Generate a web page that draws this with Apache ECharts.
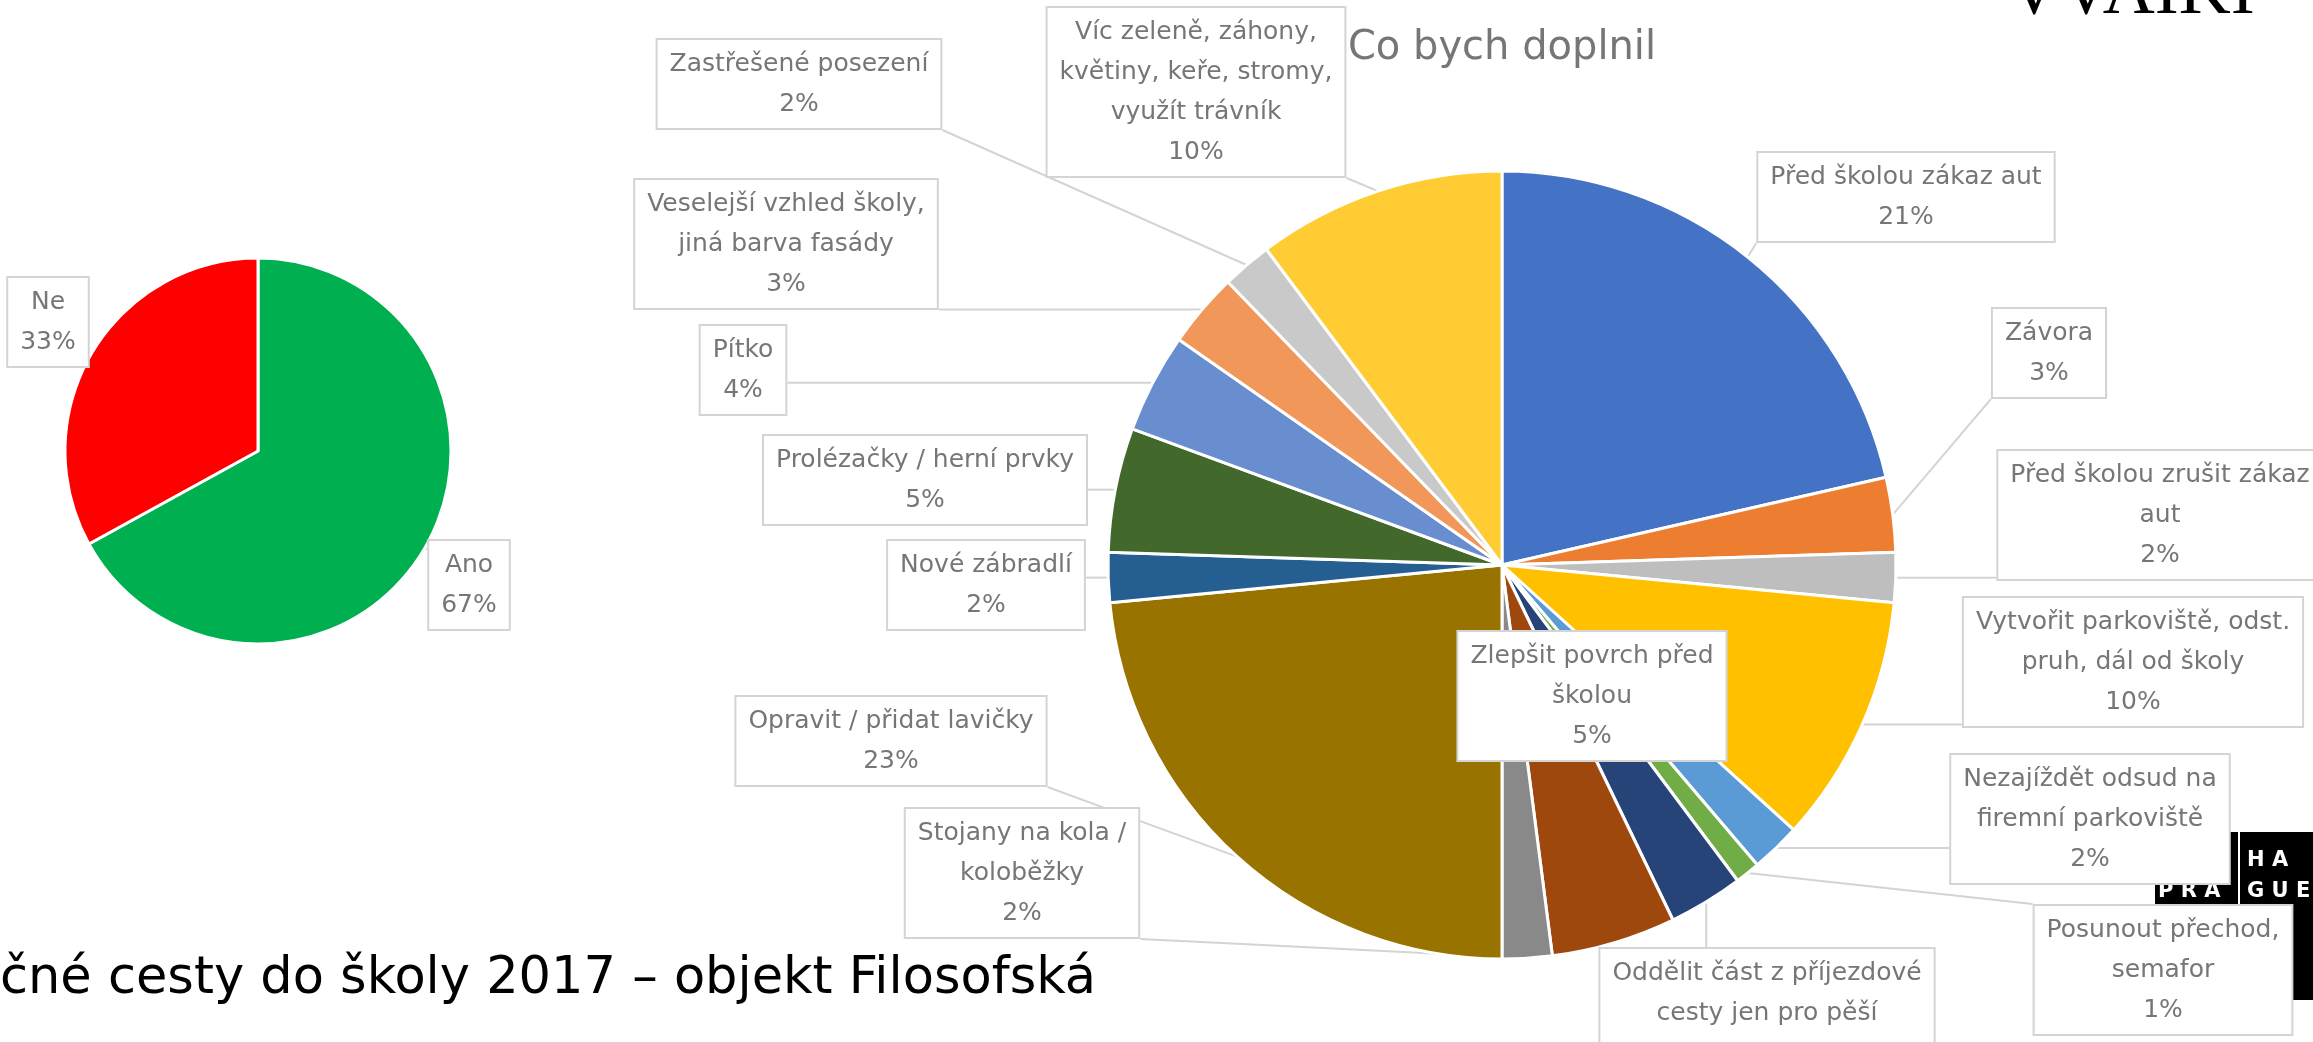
<!DOCTYPE html>
<html>
<head>
<meta charset="utf-8">
<title>Co bych doplnil</title>
<script src="https://cdn.jsdelivr.net/npm/echarts@6/dist/echarts.min.js"></script>
<style>
  html, body { margin: 0; padding: 0; background: #ffffff; overflow: hidden; }
  #main { width: 2313px; height: 1042px; }
</style>
</head>
<body>
<div id="main"></div>
<script>
// levý graf (ano / ne)
const answerNames = ['Ano', 'Ne'];
const answerValues = [67, 33];

// pravý graf - Co bych doplnil
const ideaNames = [
  'Před školou zákaz aut',
  'Závora',
  'Před školou zrušit zákaz\naut',
  'Vytvořit parkoviště, odst.\npruh, dál od školy',
  'Nezajíždět odsud na\nfiremní parkoviště',
  'Posunout přechod,\nsemafor',
  'Oddělit část z příjezdové\ncesty jen pro pěší',
  'Zlepšit povrch před\nškolou',
  'Stojany na kola /\nkoloběžky',
  'Opravit / přidat lavičky',
  'Nové zábradlí',
  'Prolézačky / herní prvky',
  'Pítko',
  'Veselejší vzhled školy,\njiná barva fasády',
  'Zastřešené posezení',
  'Víc zeleně, záhony,\nkvětiny, keře, stromy,\nvyužít trávník'
];
const ideaValues = [21, 3, 2, 10, 2, 1, 3, 5, 2, 23, 2, 5, 4, 3, 2, 10];

// barvy (Office paleta)
const answerColors = ['#00B050', '#FF0000'];
const ideaColors = [
  '#4472C4', '#ED7D31', '#BEBEBE', '#FFC000', '#5B9BD5', '#70AD47',
  '#264478', '#9E480E', '#898989', '#997300', '#255E91', '#43682B',
  '#698ED0', '#F1975A', '#C9C9C9', '#FFCD33'
];

// středy popisků (callout) v px
const answerCallouts = [[469, 585], [48, 322]];
const ideaCallouts = [
  [1906, 197], [2049, 353], [2160, 515], [2133, 662],
  [2090, 819], [2163, 970], [1767, 1013], [1592, 696],
  [1022, 873], [891, 741], [986, 585], [925, 480],
  [743, 370], [786, 244], [799, 84], [1196, 92]
];

const FONT = 'DejaVu Sans';
const LINE_GRAY = '#D4D4D4';

const calloutLabel = {
  show: true,
  position: 'outside',
  formatter: '{b}\n{c}%',
  fontFamily: FONT,
  fontSize: 25,
  lineHeight: 40,
  color: '#767676',
  align: 'center',
  backgroundColor: '#ffffff',
  borderColor: LINE_GRAY,
  borderWidth: 2,
  padding: [4, 12]
};

const calloutLine = {
  show: true,
  length: 10,
  length2: 10,
  smooth: false,
  lineStyle: { color: LINE_GRAY, width: 2 }
};

// popisek posunout na místo z reference, čára k nejbližší hraně rámečku
function placeCallout(spots) {
  return function (params) {
    const c = spots[params.dataIndex];
    const w = params.labelRect.width;
    const h = params.labelRect.height;
    const x0 = c[0] - w / 2;
    const y0 = c[1] - h / 2;
    const res = { x: c[0], y: c[1], align: 'center', verticalAlign: 'middle' };
    const pts = params.labelLinePoints;
    if (pts && pts.length) {
      const p = pts[0];
      const ex = Math.min(Math.max(p[0], x0), x0 + w);
      const ey = Math.min(Math.max(p[1], y0), y0 + h);
      res.labelLinePoints = [[p[0], p[1]], [(p[0] + ex) / 2, (p[1] + ey) / 2], [ex, ey]];
    }
    return res;
  };
}

function toItems(names, values, colors) {
  return names.map((n, i) => ({ name: n, value: values[i], itemStyle: { color: colors[i] } }));
}

const chart = echarts.init(document.getElementById('main'), null, { renderer: 'canvas' });

const option = {
  backgroundColor: '#ffffff',
  animation: false,
  title: {
    text: 'Co bych doplnil',
    left: 1502,
    top: 29,
    textAlign: 'center',
    padding: 0,
    textStyle: { fontFamily: FONT, fontSize: 40, fontWeight: 'normal', color: '#767676' }
  },
  graphic: [
    // spodní nadpis slidu (useknutý vlevo)
    {
      type: 'text', x: 0, y: 980, z: -5,
      style: { text: 'čné cesty do školy 2017 – objekt Filosofská', font: '51px "DejaVu Sans"', fill: '#000000', align: 'left', verticalAlign: 'middle' }
    },
    // zbytek loga nahoře vpravo
    {
      type: 'text', x: 2008, y: -6, z: -5,
      style: { text: 'VVAIKI', font: '72px "Liberation Serif"', fill: '#000000', align: 'left', verticalAlign: 'middle' }
    },
    // logo PRAHA vpravo dole
    { type: 'rect', z: -6, shape: { x: 2155, y: 832, width: 158, height: 168 }, style: { fill: '#000000' } },
    { type: 'rect', z: -5, shape: { x: 2238, y: 832, width: 2, height: 168 }, style: { fill: '#ffffff' } },
    {
      type: 'text', x: 2247, y: 861, z: -4,
      style: { text: 'H A', font: 'bold 21px "DejaVu Sans"', fill: '#ffffff', align: 'left', verticalAlign: 'middle' }
    },
    {
      type: 'text', x: 2158, y: 892, z: -4,
      style: { text: 'P R A', font: 'bold 21px "DejaVu Sans"', fill: '#ffffff', align: 'left', verticalAlign: 'middle' }
    },
    {
      type: 'text', x: 2247, y: 892, z: -4,
      style: { text: 'G U E', font: 'bold 21px "DejaVu Sans"', fill: '#ffffff', align: 'left', verticalAlign: 'middle' }
    }
  ],
  series: [
    {
      name: 'Ano / Ne',
      type: 'pie',
      center: [258, 451],
      radius: 193,
      startAngle: 90,
      clockwise: true,
      avoidLabelOverlap: false,
      itemStyle: { borderColor: '#ffffff', borderWidth: 3 },
      label: calloutLabel,
      labelLine: calloutLine,
      labelLayout: placeCallout(answerCallouts),
      emphasis: { disabled: true },
      data: toItems(answerNames, answerValues, answerColors)
    },
    {
      name: 'Co bych doplnil',
      type: 'pie',
      center: [1502, 565],
      radius: 394,
      startAngle: 90,
      clockwise: true,
      avoidLabelOverlap: false,
      itemStyle: { borderColor: '#ffffff', borderWidth: 3 },
      label: calloutLabel,
      labelLine: calloutLine,
      labelLayout: placeCallout(ideaCallouts),
      emphasis: { disabled: true },
      data: toItems(ideaNames, ideaValues, ideaColors)
    }
  ]
};

chart.setOption(option);
</script>
</body>
</html>
